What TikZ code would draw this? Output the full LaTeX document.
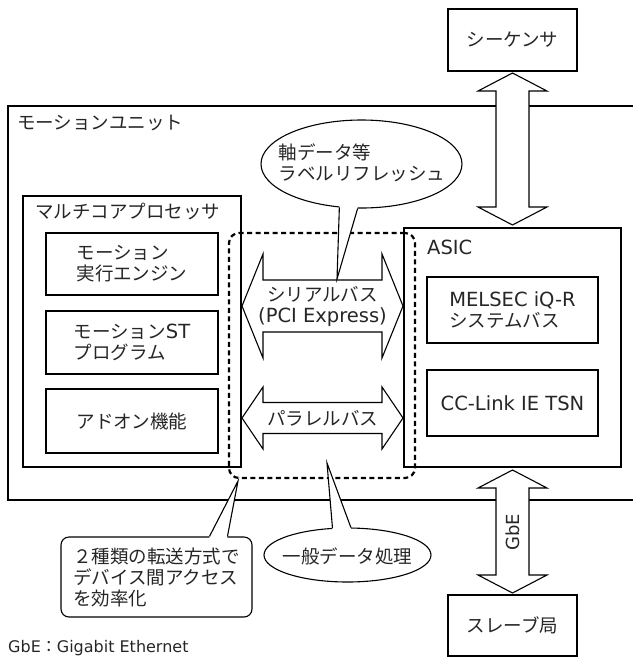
\documentclass[tikz,border=0pt]{standalone}
\usepackage{fontspec}
\newfontfamily\jp{Noto Sans CJK JP}
\newfontfamily\la{DejaVu Sans}
\newcommand\LL[1]{{\la\fontsize{19.5}{21}\selectfont #1}}
\newcommand\LS[1]{{\la\fontsize{16}{18}\selectfont #1}}
\usetikzlibrary{calc,shapes.geometric}
\begin{document}
\begin{tikzpicture}[x=1pt,y=-1pt,
  every node/.style={font=\jp\fontsize{18.5}{21}\selectfont, inner sep=0pt, text=black!85},
  ln/.style={line width=1.1pt},
  box/.style={draw, line width=1.1pt, fill=white, align=left},
  dsh/.style={draw, line width=2.2pt, dash pattern=on 5pt off 3.5pt, rounded corners=10pt},
  fat/.style={draw, line width=1.1pt, fill=white, line join=miter},
  ]
\useasboundingbox (0,0) rectangle (633,657);

% outer unit
\draw[ln] (633,106) -- (8,106) -- (8,500) -- (633,500);
\node[anchor=west] (unitlabel) at (17,123) {モーションユニット};

% multicore processor
\node[box, minimum width=218pt, minimum height=271pt] (mc) at (132,331.5) {};
\node[anchor=west] (mclabel) at (35,212) {マルチコアプロセッサ};
\node[box, minimum width=172pt, minimum height=62pt] (e1) at (132,264) {モーション\\実行エンジン};
\node[box, minimum width=172pt, minimum height=63pt] (e2) at (132,342.5) {モーション\LL{ST}\\プログラム};
\node[box, minimum width=172pt, minimum height=64pt] (e3) at (132,421) {アドオン機能};

% ASIC
\node[box, minimum width=217pt, minimum height=239pt] (asic) at (512.5,347.5) {};
\node[anchor=west] (asiclabel) at (427,247) {\LL{ASIC}};
\node[box, minimum width=171pt, minimum height=66pt] (melsec) at (512.5,310) {\LL{MELSEC iQ-R}\\システムバス};
\node[box, minimum width=171pt, minimum height=66pt] (cclink) at (512.5,403) {\LL{CC-Link IE TSN}};

% sequencer and slave
\node[box, minimum width=129pt, minimum height=62pt] (seq) at (512.5,40) {シーケンサ};
\node[box, minimum width=129pt, minimum height=61pt] (slave) at (512.5,625.5) {スレーブ局};

% dashed group
\node[dsh, minimum width=186pt, minimum height=245pt] (grp) at (322,355.5) {};

% fat arrows
\coordinate (sa) at (242,306);
\coordinate (pa) at (242,418);
\coordinate (ta) at (512.5,73);
\coordinate (ga) at (512.5,470);
\draw[fat] (sa) -- ++(21,-52) -- ++(0,26) -- ++(119,0) -- ++(0,-26) -- ++(21,52)
  -- ++(-21,52) -- ++(0,-26) -- ++(-119,0) -- ++(0,26) -- cycle;
\draw[fat] (pa) -- ++(21,-31) -- ++(0,15.5) -- ++(119,0) -- ++(0,-15.5) -- ++(21,31)
  -- ++(-21,31) -- ++(0,-15.5) -- ++(-119,0) -- ++(0,15.5) -- cycle;
\draw[fat] (ta) -- ++(34.5,18) -- ++(-18,0) -- ++(0,116) -- ++(18,0) -- ++(-34.5,18)
  -- ++(-34.5,-18) -- ++(18,0) -- ++(0,-116) -- ++(-18,0) -- cycle;
\draw[fat] (ga) -- ++(34.5,18) -- ++(-18,0) -- ++(0,87) -- ++(18,0) -- ++(-34.5,18)
  -- ++(-34.5,-18) -- ++(18,0) -- ++(0,-87) -- ++(-18,0) -- cycle;
\node[align=center] (serialt) at (322.5,306) {シリアルバス\\\LL{(PCI Express)}};
\node (parat) at (322.5,418) {パラレルバス};
\node[rotate=90] (gbet) at (512.5,532) {{\la\fontsize{18}{20}\selectfont GbE}};

% callout 1
\node[draw, ellipse, ln, fill=white, minimum width=201pt, minimum height=88pt] (b1) at (361.5,164) {};
\coordinate (b1tip) at (337,279);
\fill[white] (b1.243) -- (b1tip) -- (b1.265) -- ($(b1.265)+(0,-3)$) -- ($(b1.243)+(0,-3)$) -- cycle;
\draw[ln] (b1.243) -- (b1tip) -- (b1.265);
\node[align=left] (b1t) at (362,163) {軸データ等\\ラベルリフレッシュ};

% callout 2
\node[draw, ellipse, ln, fill=white, minimum width=167pt, minimum height=54pt] (b2) at (347.5,555) {};
\coordinate (b2tip) at (327,463);
\fill[white] (b2.119) -- (b2tip) -- (b2.83) -- ($(b2.83)+(0,3)$) -- ($(b2.119)+(0,3)$) -- cycle;
\draw[ln] (b2.119) -- (b2tip) -- (b2.83);
\node (b2t) at (347.5,556) {一般データ処理};

% callout 3
\node[draw, ln, rounded corners=8pt, fill=white, minimum width=191pt, minimum height=80pt, align=left] (cb) at (156.5,577) {２種類の転送方式で\\デバイス間アクセス\\を効率化};
\coordinate (cbtip) at (238,481);
\fill[white] ($(cb.north west)+(149,0)$) -- (cbtip) -- ($(cb.north west)+(167,0)$) -- ($(cb.north west)+(167,2)$) -- ($(cb.north west)+(149,2)$) -- cycle;
\draw[ln] ($(cb.north west)+(149,0)$) -- (cbtip) -- ($(cb.north west)+(167,0)$);

% footnote
\node[anchor=west] (fn) at (8,648) {\LS{GbE}{\fontsize{16}{18}\selectfont ：}\LS{Gigabit Ethernet}};
\end{tikzpicture}
\end{document}
